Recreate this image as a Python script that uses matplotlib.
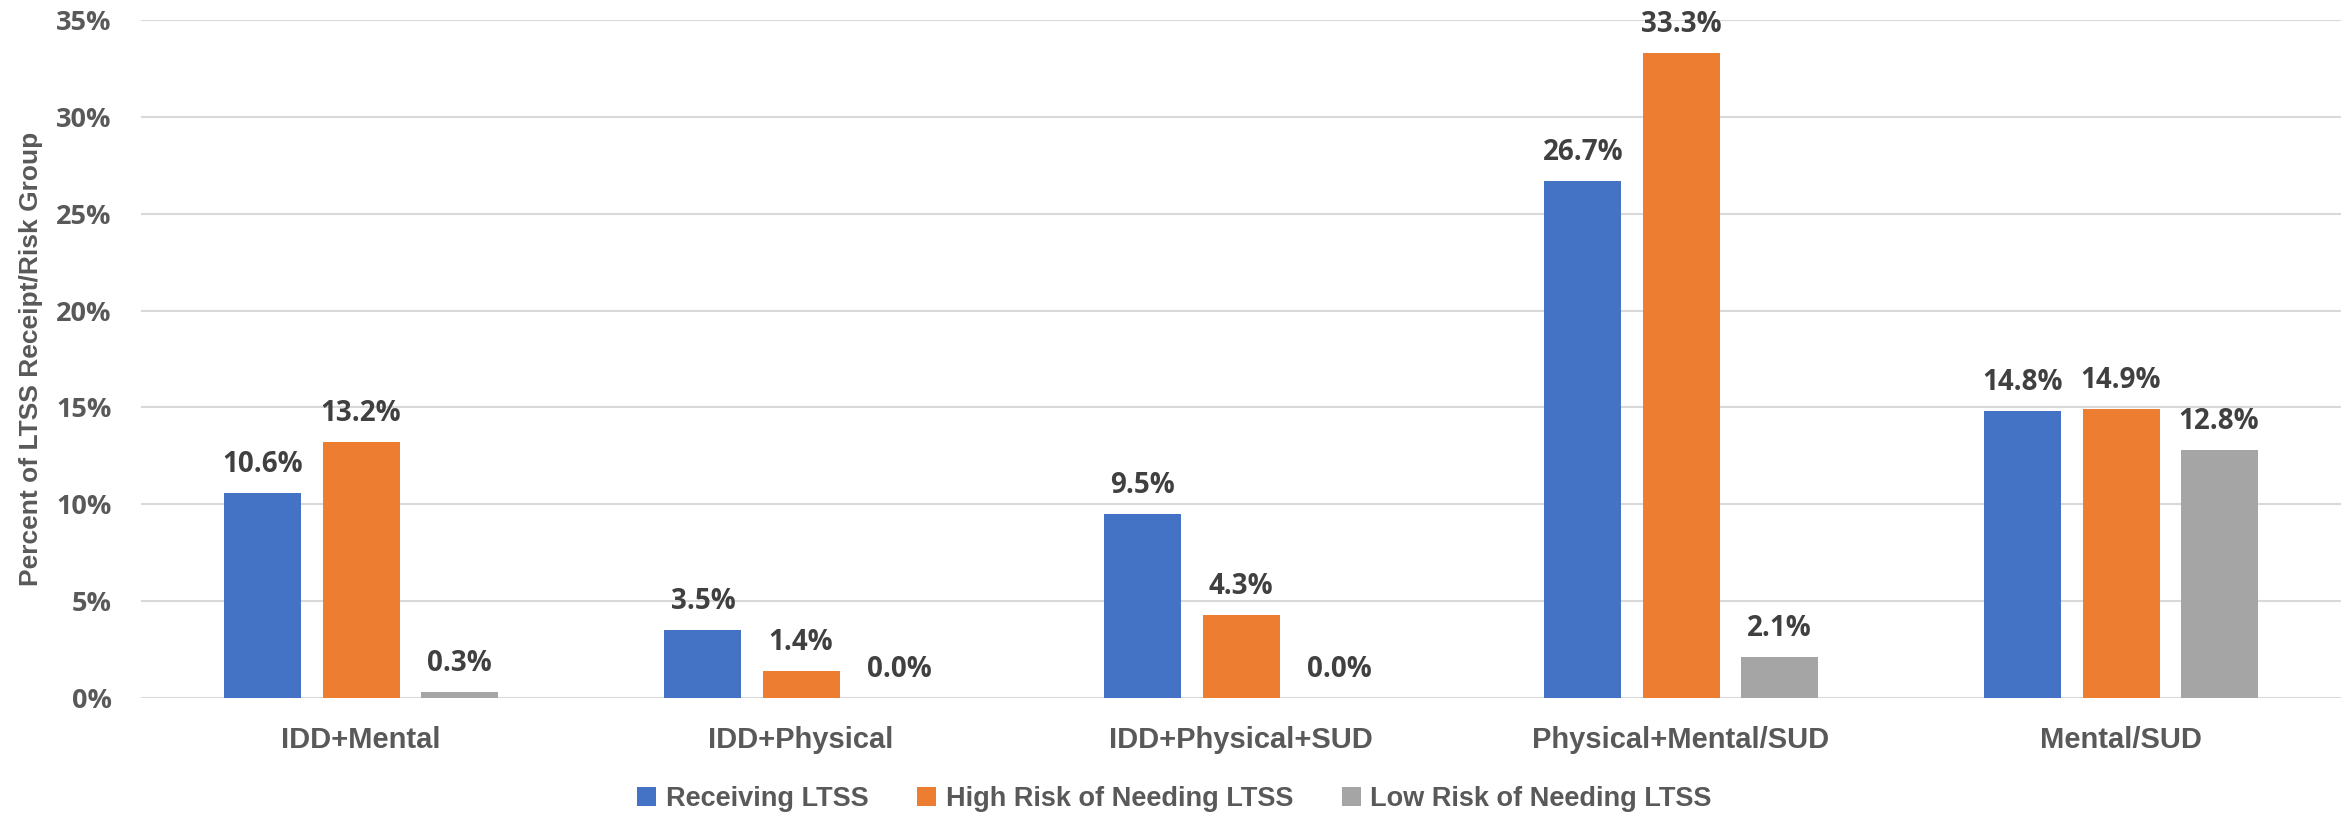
import matplotlib
matplotlib.use("Agg")
import matplotlib.pyplot as plt
import numpy as np
from matplotlib.ticker import FuncFormatter

categories = ["IDD+Mental", "IDD+Physical", "IDD+Physical+SUD",
              "Physical+Mental/SUD", "Mental/SUD"]
series_names = ["Receiving LTSS", "High Risk of Needing LTSS",
                "Low Risk of Needing LTSS"]
receiving = [10.6, 3.5, 9.5, 26.7, 14.8]
high_risk = [13.2, 1.4, 4.3, 33.3, 14.9]
low_risk = [0.3, 0.0, 0.0, 2.1, 12.8]
y_ticks = [0, 5, 10, 15, 20, 25, 30, 35]

colors = ["#4472C4", "#ED7D31", "#A5A5A5"]
narrow = ["Liberation Sans", "DejaVu Sans"]
wide = ["Open Sans", "DejaVu Sans"]

fig = plt.figure(figsize=(23.49, 8.17), dpi=100)
ax = fig.add_axes([141 / 2349, 1 - 698 / 817, 2200 / 2349, (698 - 20) / 817])

x = np.arange(len(categories))
width = 0.175
step = 0.223
for i, (vals, name) in enumerate(zip([receiving, high_risk, low_risk], series_names)):
    bars = ax.bar(x + (i - 1) * step, vals, width, color=colors[i], label=name, zorder=3)
    for b, v in zip(bars, vals):
        ax.annotate("%.1f%%" % v, (b.get_x() + b.get_width() / 2, v),
                    xytext=(0, 10), textcoords="offset points",
                    ha="center", va="bottom", fontsize=20, fontweight="bold",
                    color="#404040", family=wide)

ax.set_xlim(-0.5, len(categories) - 0.5)
ax.set_ylim(0, 35)
ax.set_yticks(y_ticks)
ax.yaxis.set_major_formatter(FuncFormatter(lambda v, p: "%d%%" % v))
ax.grid(axis="y", color="#D9D9D9", linewidth=1.5, zorder=0)
for s in ax.spines.values():
    s.set_visible(False)
ax.tick_params(axis="both", length=0)
ax.tick_params(axis="y", pad=21)
ax.tick_params(axis="x", pad=20)
for lab in ax.get_yticklabels():
    lab.set_fontsize(19.5)
    lab.set_fontweight("bold")
    lab.set_color("#595959")
    lab.set_family(wide)
ax.set_xticks(x)
ax.set_xticklabels(categories, fontsize=21, fontweight="bold", color="#595959", family=narrow)

ax.set_ylabel("Percent of LTSS Receipt/Risk Group", fontsize=19, fontweight="bold",
              color="#595959", family=narrow)
ax.yaxis.set_label_coords(-0.0445, 0.5)

leg = fig.legend(loc="center", bbox_to_anchor=(0.5, 1 - 799 / 817), ncol=3, frameon=False,
                 prop={"family": narrow, "size": 19.5, "weight": "bold"},
                 handlelength=0.7, handleheight=0.7, handletextpad=0.35, columnspacing=1.8)
for t in leg.get_texts():
    t.set_color("#595959")

fig.savefig("out.png", dpi=100)
